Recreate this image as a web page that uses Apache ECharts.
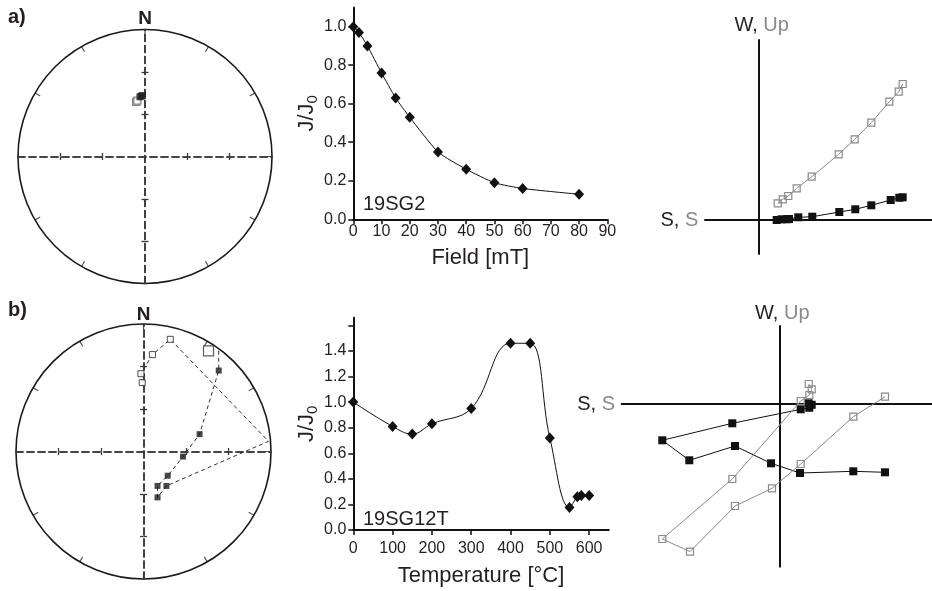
<!DOCTYPE html>
<html>
<head>
<meta charset="utf-8">
<script src="https://cdn.jsdelivr.net/npm/echarts@6.0.0/dist/echarts.min.js"></script>
<style>
  html, body { margin: 0; padding: 0; background: #fff; }
  #chart { width: 932px; height: 591px; }
</style>
</head>
<body>
<div id="chart"></div>
<script>
// ---- data ----
// a) AF demagnetisation, sample 19SG2
const fieldSteps = [0, 2, 5, 10, 15, 20, 30, 40, 50, 60, 80];
const fieldJ = [1.0, 0.97, 0.90, 0.76, 0.63, 0.53, 0.35, 0.26, 0.19, 0.16, 0.13];

// b) thermal demagnetisation, sample 19SG12T
const tempSteps = [0, 100, 150, 200, 300, 400, 450, 500, 550, 570, 580, 600];
const tempJ = [1.0, 0.81, 0.75, 0.83, 0.95, 1.46, 1.46, 0.72, 0.175, 0.26, 0.27, 0.27];

// stereonet a (equal area, unit radius): lower / upper hemisphere
const stereoAFilledX = [-0.04, -0.02, -0.03];
const stereoAFilledY = [0.47, 0.48, 0.475];
const stereoAOpenX = [-0.07, -0.06];
const stereoAOpenY = [0.43, 0.44];

// stereonet b path (f = lower hemisphere, o = upper, n = on the primitive)
const stereoBX = [0.59, 0.59, 0.44, 0.31, 0.19, 0.11, 0.11, 0.18, 0.98, 0.21, 0.07, -0.02, -0.01];
const stereoBY = [0.79, 0.635, 0.136, -0.04, -0.19, -0.27, -0.36, -0.27, 0.08, 0.88, 0.76, 0.61, 0.54];
const stereoBKind = ['n', 'f', 'f', 'f', 'f', 'f', 'f', 'f', 'n', 'o', 'o', 'o', 'o'];
const stereoBMeanX = [0.51];
const stereoBMeanY = [0.79];

// Zijderveld a (arbitrary units)
const zijAHorX = [18.4, 23.4, 28.4, 30.7, 40, 54, 81, 97, 113, 132.4, 141, 144.4];
const zijAHorY = [0, 0.7, 0.7, 1, 2.7, 3.3, 8, 10.7, 14.7, 20, 22.3, 22.7];
const zijAVerX = [19.4, 24.4, 30, 38.4, 53.4, 80.4, 96.4, 113, 131, 140.4, 144.4];
const zijAVerY = [16.7, 20.7, 24, 31.7, 43.3, 65.7, 80.7, 97.3, 118.3, 128.3, 136];

// Zijderveld b
const zijBHorX = [105, 73.3, 20, -9, -45, -90.7, -117.7, -47.7, 20.7, 29.3, 31.7, 28.7];
const zijBHorY = [-69, -68, -69.7, -60, -42.7, -57, -37, -20, -6, -4.5, -1.5, 0];
const zijBVerX = [105, 73.3, 20.7, -8, -45, -90, -117.7, -47.7, 20.7, 29.3, 31.7, 28.7];
const zijBVerY = [6.6, -13.4, -60.7, -85, -102.7, -148.3, -135.7, -75.7, 2.3, 8.3, 14, 19.3];

const jTicksA = [0, 0.2, 0.4, 0.6, 0.8, 1.0];
const jLabelsB = [0, 0.2, 0.4, 0.6, 0.8, 1.0, 1.2, 1.4];
const jTicksB = [0, 0.2, 0.4, 0.6, 0.8, 1.0, 1.2, 1.4, 1.6];
const tempTicks = [0, 100, 200, 300, 400, 500, 600];
const crossTicks = [-2 / 3, -1 / 3, 1 / 3, 2 / 3];

const FONT = '"Liberation Sans", Arial, Helvetica, sans-serif';
const INK = '#231f20';
const GREY = '#8a8a8a';

const zip = (xs, ys) => xs.map((x, i) => [x, ys[i]]);

// ---- helpers for the building blocks ----
function stereoAxes(grid) {
  const dashed = { show: true, onZero: true, lineStyle: { color: '#3a3a3a', width: 1.6, type: [7, 4] } };
  const tick = { show: true, inside: false, length: 3.5, customValues: crossTicks, lineStyle: { color: '#3a3a3a', width: 1.3 } };
  const common = { type: 'value', gridIndex: grid, min: -1, max: 1, axisLine: dashed, axisTick: tick,
    axisLabel: { show: false }, splitLine: { show: false } };
  return {
    x: [Object.assign({ position: 'bottom' }, common), Object.assign({ position: 'top' }, common)],
    y: [Object.assign({ position: 'left' }, common), Object.assign({ position: 'right' }, common)]
  };
}

function zijAxes(grid, xr, yr) {
  const line = { show: true, onZero: true, lineStyle: { color: '#111', width: 2 } };
  const common = { type: 'value', gridIndex: grid, axisLine: line, axisTick: { show: false },
    axisLabel: { show: false }, splitLine: { show: false } };
  return {
    x: Object.assign({ min: xr[0], max: xr[1] }, common),
    y: Object.assign({ min: yr[0], max: yr[1] }, common)
  };
}

const labelStyle = { color: INK, fontSize: 16, fontFamily: FONT };
const nameStyle = {
  color: INK, fontSize: 22, fontFamily: FONT, lineHeight: 26,
  rich: { s: { fontSize: 15, lineHeight: 14, verticalAlign: 'bottom', fontFamily: FONT, color: INK } }
};
const axisLineMid = { show: true, onZero: false, lineStyle: { color: '#111', width: 2 } };

const sA = stereoAxes(0);
const sB = stereoAxes(3);
const zA = zijAxes(2, [-53.3, 173.4], [-34, 180]);
const zB = zijAxes(5, [-158.3, 152], [-163.4, 77.3]);

const gridBase = { show: false, containLabel: false, outerBoundsMode: 'none' };

const option = {
  animation: false,
  backgroundColor: '#fff',
  textStyle: { fontFamily: FONT },
  grid: [
    Object.assign({ left: 18, top: 29.5, width: 254, height: 254 }, gridBase),
    Object.assign({ left: 353.3, top: 7.4, width: 254, height: 211.9 }, gridBase),
    Object.assign({ left: 705, top: 40, width: 226.7, height: 214 }, gridBase),
    Object.assign({ left: 16, top: 324, width: 255, height: 255 }, gridBase),
    Object.assign({ left: 353.3, top: 317.7, width: 255.5, height: 212.3 }, gridBase),
    Object.assign({ left: 621.7, top: 326, width: 310.3, height: 240.7 }, gridBase)
  ],
  polar: [
    { center: [145, 156.5], radius: 127 },
    { center: [143.5, 451.5], radius: 127.5 }
  ],
  angleAxis: [0, 1].map(p => ({
    polarIndex: p, type: 'value', min: 0, max: 360, interval: 30, startAngle: 90, clockwise: true,
    axisLine: { show: true, lineStyle: { color: '#1a1a1a', width: 1.6 } },
    axisTick: { show: true, inside: true, length: 6, lineStyle: { color: '#555', width: 1.2 } },
    axisLabel: { show: false }, splitLine: { show: false }
  })),
  radiusAxis: [0, 1].map(p => ({ polarIndex: p, type: 'value', min: 0, max: 1, show: false,
    axisLine: { show: false }, axisTick: { show: false }, axisLabel: { show: false }, splitLine: { show: false } })),
  xAxis: [
    sA.x[0], sA.x[1],
    {
      type: 'value', gridIndex: 1, min: 0, max: 90, interval: 10,
      name: 'Field [mT]', nameLocation: 'middle', nameGap: 26, nameTextStyle: nameStyle,
      axisLine: axisLineMid, axisTick: { show: true, length: 5, lineStyle: { color: '#111', width: 1.5 } },
      axisLabel: Object.assign({ margin: 4 }, labelStyle), splitLine: { show: false }
    },
    zA.x,
    sB.x[0], sB.x[1],
    {
      type: 'value', gridIndex: 4, min: 0, max: 650,
      name: 'Temperature [°C]', nameLocation: 'middle', nameGap: 33, nameTextStyle: nameStyle,
      axisLine: axisLineMid,
      axisTick: { show: true, length: 5, customValues: tempTicks, lineStyle: { color: '#111', width: 1.5 } },
      axisLabel: Object.assign({ margin: 11, customValues: tempTicks }, labelStyle), splitLine: { show: false }
    },
    zB.x
  ],
  yAxis: [
    sA.y[0], sA.y[1],
    {
      type: 'value', gridIndex: 1, min: 0, max: 1.1,
      name: 'J/J{s|0}', nameLocation: 'middle', nameRotate: 90, nameGap: 32, nameTextStyle: nameStyle,
      axisLine: axisLineMid,
      axisTick: { show: true, length: 5, customValues: jTicksA, lineStyle: { color: '#111', width: 1.5 } },
      axisLabel: Object.assign({ margin: 7, customValues: jTicksA, formatter: v => v.toFixed(1) }, labelStyle),
      splitLine: { show: false }
    },
    zA.y,
    sB.y[0], sB.y[1],
    {
      type: 'value', gridIndex: 4, min: 0, max: 1.66,
      name: 'J/J{s|0}', nameLocation: 'middle', nameRotate: 90, nameGap: 32, nameTextStyle: nameStyle,
      axisLine: axisLineMid,
      axisTick: { show: true, length: 5, customValues: jTicksB, lineStyle: { color: '#111', width: 1.5 } },
      axisLabel: Object.assign({ margin: 7, customValues: jLabelsB, formatter: v => v.toFixed(1) }, labelStyle),
      splitLine: { show: false }
    },
    zB.y
  ],
  series: [
    // stereonet a
    {
      type: 'scatter', xAxisIndex: 0, yAxisIndex: 0, symbol: 'rect', symbolSize: 7, z: 5,
      itemStyle: { color: '#fff', borderColor: '#666', borderWidth: 1.2 },
      data: zip(stereoAOpenX, stereoAOpenY)
    },
    {
      type: 'scatter', xAxisIndex: 0, yAxisIndex: 0, symbol: 'rect', symbolSize: 7, z: 6,
      itemStyle: { color: '#222' },
      data: zip(stereoAFilledX, stereoAFilledY)
    },
    // J/J0 vs field
    {
      type: 'line', xAxisIndex: 2, yAxisIndex: 2, smooth: 0.2, symbol: 'diamond', symbolSize: [10, 11],
      lineStyle: { color: '#111', width: 1 }, itemStyle: { color: '#111' },
      data: zip(fieldSteps, fieldJ)
    },
    // Zijderveld a
    {
      type: 'line', xAxisIndex: 3, yAxisIndex: 3, symbol: 'rect', symbolSize: 8,
      lineStyle: { color: '#111', width: 1 }, itemStyle: { color: '#111' },
      data: zip(zijAHorX, zijAHorY)
    },
    {
      type: 'line', xAxisIndex: 3, yAxisIndex: 3, symbol: 'rect', symbolSize: 7,
      lineStyle: { color: GREY, width: 1 }, itemStyle: { color: 'rgba(255,255,255,0)', borderColor: GREY, borderWidth: 1.2 },
      data: zip(zijAVerX, zijAVerY)
    },
    // stereonet b
    {
      type: 'line', xAxisIndex: 4, yAxisIndex: 4, symbol: 'none', z: 3,
      lineStyle: { color: '#333', width: 1, type: [4, 3] },
      data: zip(stereoBX, stereoBY)
    },
    {
      type: 'scatter', xAxisIndex: 4, yAxisIndex: 4, symbol: 'rect', symbolSize: 6, z: 6,
      itemStyle: { color: '#1a1a1a' },
      data: zip(stereoBX, stereoBY).filter((p, i) => stereoBKind[i] === 'f')
    },
    {
      type: 'scatter', xAxisIndex: 4, yAxisIndex: 4, symbol: 'rect', symbolSize: 6, z: 6,
      itemStyle: { color: '#fff', borderColor: '#222', borderWidth: 1 },
      data: zip(stereoBX, stereoBY).filter((p, i) => stereoBKind[i] === 'o')
    },
    {
      type: 'scatter', xAxisIndex: 4, yAxisIndex: 4, symbol: 'rect', symbolSize: 10, z: 6,
      itemStyle: { color: '#fff', borderColor: '#333', borderWidth: 1.2 },
      data: zip(stereoBMeanX, stereoBMeanY)
    },
    // J/J0 vs temperature
    {
      type: 'line', xAxisIndex: 6, yAxisIndex: 6, smooth: 0.4, symbol: 'diamond', symbolSize: [10, 11],
      lineStyle: { color: '#111', width: 1 }, itemStyle: { color: '#111' },
      data: zip(tempSteps, tempJ)
    },
    // Zijderveld b
    {
      type: 'line', xAxisIndex: 7, yAxisIndex: 7, symbol: 'rect', symbolSize: 8,
      lineStyle: { color: '#111', width: 1 }, itemStyle: { color: '#111' },
      data: zip(zijBHorX, zijBHorY)
    },
    {
      type: 'line', xAxisIndex: 7, yAxisIndex: 7, symbol: 'rect', symbolSize: 7,
      lineStyle: { color: GREY, width: 1 }, itemStyle: { color: 'rgba(255,255,255,0)', borderColor: GREY, borderWidth: 1.2 },
      data: zip(zijBVerX, zijBVerY)
    }
  ],
  graphic: [
    { type: 'text', x: 8, y: 17, style: { text: 'a)', font: 'bold 20px ' + FONT, fill: INK, verticalAlign: 'middle' } },
    { type: 'text', x: 145, y: 18.5, style: { text: 'N', font: 'bold 19px ' + FONT, fill: INK, align: 'center', verticalAlign: 'middle' } },
    { type: 'text', x: 8, y: 310.5, style: { text: 'b)', font: 'bold 20px ' + FONT, fill: INK, verticalAlign: 'middle' } },
    { type: 'text', x: 143.5, y: 314.5, style: { text: 'N', font: 'bold 19px ' + FONT, fill: INK, align: 'center', verticalAlign: 'middle' } },
    { type: 'text', x: 363, y: 204.5, style: { text: '19SG2', font: '20px ' + FONT, fill: INK, verticalAlign: 'middle' } },
    { type: 'text', x: 363, y: 519, style: { text: '19SG12T', font: '20px ' + FONT, fill: INK, verticalAlign: 'middle' } },
    { type: 'text', x: 761.7, y: 25.7, style: { text: '{b|W, }{g|Up}', font: '20px ' + FONT, align: 'center', verticalAlign: 'middle',
      rich: { b: { fill: INK, font: '20px ' + FONT }, g: { fill: GREY, font: '20px ' + FONT } } } },
    { type: 'text', x: 698.3, y: 220, style: { text: '{b|S, }{g|S}', font: '20px ' + FONT, align: 'right', verticalAlign: 'middle',
      rich: { b: { fill: INK, font: '20px ' + FONT }, g: { fill: GREY, font: '20px ' + FONT } } } },
    { type: 'text', x: 782.3, y: 313.3, style: { text: '{b|W, }{g|Up}', font: '20px ' + FONT, align: 'center', verticalAlign: 'middle',
      rich: { b: { fill: INK, font: '20px ' + FONT }, g: { fill: GREY, font: '20px ' + FONT } } } },
    { type: 'text', x: 615, y: 404, style: { text: '{b|S, }{g|S}', font: '20px ' + FONT, align: 'right', verticalAlign: 'middle',
      rich: { b: { fill: INK, font: '20px ' + FONT }, g: { fill: GREY, font: '20px ' + FONT } } } }
  ]
};

const chart = echarts.init(document.getElementById('chart'), null, { renderer: 'canvas' });
chart.setOption(option);
</script>
</body>
</html>
